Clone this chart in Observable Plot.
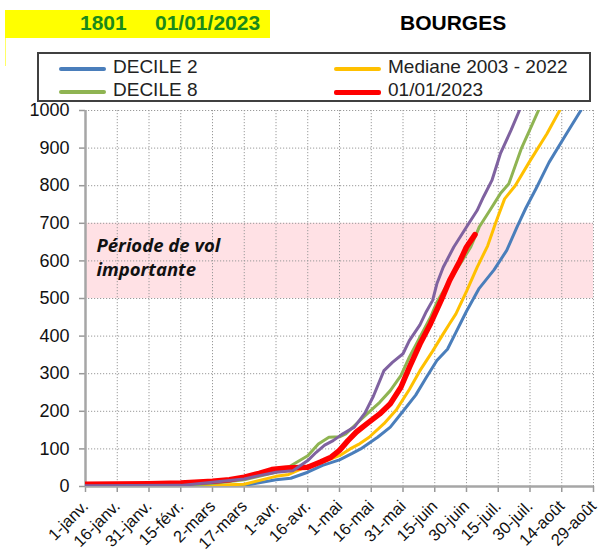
<!DOCTYPE html>
<html>
<head>
<meta charset="utf-8">
<script src="https://cdn.jsdelivr.net/npm/d3@7"></script>
<script src="https://cdn.jsdelivr.net/npm/@observablehq/plot@0.6"></script>
<style>
  body { margin: 0; background: #fff; font-family: "Liberation Sans", Arial, sans-serif; }
  #wrap { position: relative; width: 609px; height: 554px; overflow: hidden; background: #fff; }
  #chart { position: absolute; left: 0; top: 0; }
  .ov { position: absolute; }
  #ybox { left: 5px; top: 10px; width: 265px; height: 28px; background: #ffff00; }
  #yline { left: 5px; top: 38px; width: 1px; height: 28px; background: #ffff66; }
  .hdr { font-weight: bold; font-size: 21px; color: #1a8a1a; top: 11px; white-space: nowrap; }
  #city { font-weight: bold; font-size: 21px; color: #000; top: 11px; left: 400px; }
  #legend { left: 37px; top: 52px; width: 550px; height: 46px; border: 2px solid #404040; background: #fff; }
  .li { position: absolute; font-size: 19px; color: #222; white-space: nowrap; }
  .ls { position: absolute; height: 4px; border-radius: 2px; }
</style>
</head>
<body>
<div id="wrap">
  <div id="chart"></div>
</div>
<script>
// ---- data ----
const headerCode = "1801";
const headerDate = "01/01/2023";
const city = "BOURGES";

const seriesNames = ["DECILE 2", "DECILE 8", "Mediane 2003 - 2022", "01/01/2023", "autre"];
const seriesColors = ["#4a7ebb", "#8fb452", "#ffc000", "#ff0000", "#7f62a0"];
const seriesWidths = [3, 3, 3, 5.5, 3];

// [day since 1 Jan, cumulated value]
const decile2 = [[0,2],[60,2],[75,3],[80,8],[90,18],[97,22],[105,38],[112,56],[120,71],[126,88],[130,100],[138,131],[144,158],[150,200],[156,243],[161,290],[166,335],[171,365],[175,410],[180,466],[186,527],[193,576],[199,628],[204,692],[208,740],[213,794],[219,862],[227,936],[234,1000]];
const decile8 = [[0,1],[45,2],[60,8],[75,18],[90,38],[97,55],[105,82],[110,113],[115,131],[120,132],[123,140],[128,167],[133,193],[139,224],[144,255],[149,295],[153,344],[158,397],[163,450],[166,490],[172,548],[177,592],[182,637],[186,690],[191,734],[196,779],[200,805],[206,900],[210,950],[214,1000]];
const mediane = [[0,1],[45,1],[60,3],[75,6],[90,27],[96,32],[105,54],[112,65],[120,82],[125,100],[129,112],[134,131],[141,167],[147,205],[153,258],[158,308],[164,360],[169,406],[172,433],[175,459],[180,519],[185,583],[190,640],[194,705],[198,765],[203,800],[210,866],[218,938],[224,1000]];
const annee2023 = [[0,6],[30,7],[45,9],[60,14],[68,18],[75,25],[82,35],[88,45],[95,49],[105,51],[111,65],[116,78],[120,96],[124,122],[128,145],[133,167],[139,193],[144,220],[149,264],[153,317],[158,379],[163,433],[168,495],[172,548],[177,601],[180,637],[184,670]];
const autre = [[0,2],[45,3],[60,11],[75,20],[82,29],[90,38],[98,42],[105,69],[109,91],[113,110],[117,122],[121,138],[127,158],[132,195],[136,240],[141,308],[145,330],[150,353],[153,388],[158,430],[161,465],[164,495],[166,539],[169,583],[174,637],[180,690],[185,734],[188,770],[192,814],[196,885],[201,947],[205,1000]];
const seriesData = [decile2, decile8, mediane, annee2023, autre];
const drawOrder = [0, 2, 1, 3, 4];

const xTickLabels = ["1-janv.","16-janv.","31-janv.","15-févr.","2-mars","17-mars","1-avr.","16-avr.","1-mai","16-mai","31-mai","15-juin","30-juin","15-juil.","30-juil.","14-août","29-août"];
const xTickStep = 15;
const yTicks = [0,100,200,300,400,500,600,700,800,900,1000];
const bandRange = [500, 700];
const bandText = "Période de vol\nimportante";

// ---- build ----
const xTicks = xTickLabels.map((_, i) => i * xTickStep);
const xDomain = [xTicks[0], xTicks[xTicks.length - 1]];
const band = [{x1: xDomain[0], x2: xDomain[1], y1: bandRange[0], y2: bandRange[1]}];

const lineMarks = drawOrder.map(i =>
  Plot.line(seriesData[i], {x: d => d[0], y: d => d[1], stroke: seriesColors[i], strokeWidth: seriesWidths[i], strokeLinejoin: "round", strokeLinecap: "round", clip: true})
);

const plot = Plot.plot({
  width: 609,
  height: 554,
  marginTop: 110,
  marginLeft: 85,
  marginRight: 16,
  marginBottom: 68,
  style: {fontFamily: "'Liberation Sans', Arial, sans-serif", background: "white", color: "#111", overflow: "visible"},
  x: {domain: xDomain},
  y: {domain: [0, 1000]},
  marks: [
    Plot.rect(band, {x1: "x1", x2: "x2", y1: "y1", y2: "y2", fill: "#ffe1e5"}),
    Plot.gridX(xTicks, {stroke: "#9a9a9a", strokeOpacity: 1, strokeDasharray: "1.2,1.8", strokeWidth: 1}),
    Plot.gridY(yTicks, {stroke: "#9a9a9a", strokeOpacity: 1, strokeDasharray: "1.2,1.8", strokeWidth: 1}),
    Plot.text([bandText], {x: xDomain[0], y: bandRange[1], text: d => d, textAnchor: "start", lineAnchor: "top", dx: 11, dy: 12, fontSize: 18.5, fontWeight: "bold", fontStyle: "italic", fontFamily: "'Open Sans', Lato, sans-serif", lineHeight: 1.3, fill: "#111"}),
    Plot.axisY(yTicks, {tickSize: 6, tickPadding: 10, fontSize: 18, tickFormat: d => String(d), stroke: "#999", strokeWidth: 1.5, label: null, fill: "#111"}),
    Plot.axisX(xTicks, {tickSize: 6, tickPadding: 11, tickRotate: -45, fontSize: 16.5, tickFormat: (d, i) => xTickLabels[i], stroke: "#999", strokeWidth: 1.5, label: null, fill: "#111"}),
    Plot.ruleX([xDomain[0]], {stroke: "#a6a6a6", strokeWidth: 2.5}),
    Plot.ruleY([0], {stroke: "#a6a6a6", strokeWidth: 2.5}),
    ...lineMarks
  ]
});
document.getElementById("chart").appendChild(plot);

// ---- header & legend (HTML) ----
const wrap = document.getElementById("wrap");
function el(cls, id, text, css) {
  const d = document.createElement("div");
  d.className = cls;
  if (id) d.id = id;
  if (text != null) d.textContent = text;
  if (css) Object.assign(d.style, css);
  return d;
}
wrap.appendChild(el("ov", "ybox"));
wrap.appendChild(el("ov", "yline"));
wrap.appendChild(el("ov hdr", null, headerCode, {left: "80px"}));
wrap.appendChild(el("ov hdr", null, headerDate, {left: "155px"}));
wrap.appendChild(el("ov", "city", city));

const legend = el("ov", "legend");
const legendOrder = [0, 2, 1, 3];
const legendPos = [[20, 4], [295, 4], [20, 27], [295, 27]];
legendOrder.forEach((si, k) => {
  const [lx, ly] = legendPos[k];
  legend.appendChild(el("ls", null, null, {left: lx + "px", top: (ly + 9) + "px", width: "47px", background: seriesColors[si], height: (si === 3 ? 5 : 4) + "px"}));
  legend.appendChild(el("li", null, seriesNames[si], {left: (lx + 54) + "px", top: (ly - 2) + "px"}));
});
wrap.appendChild(legend);
</script>
</body>
</html>
